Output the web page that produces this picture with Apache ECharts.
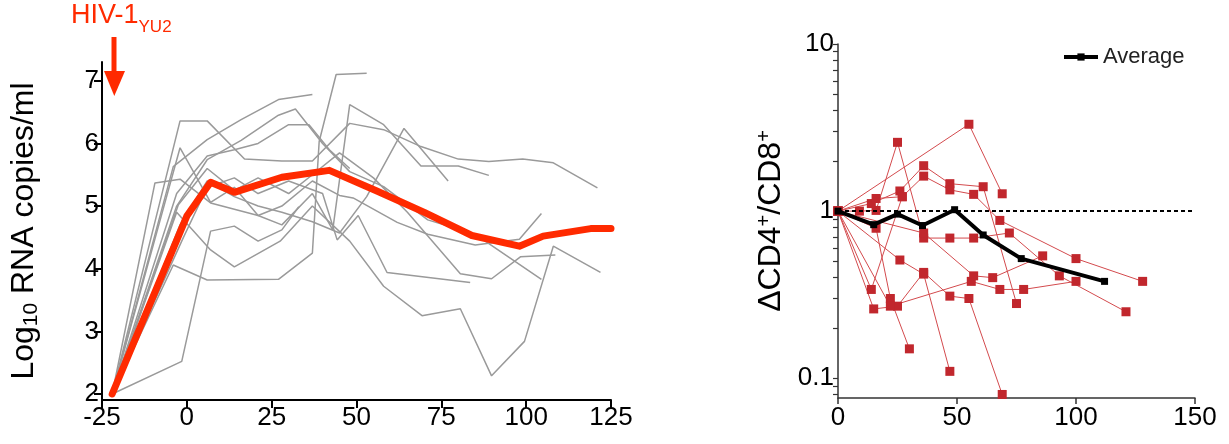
<!DOCTYPE html>
<html><head><meta charset="utf-8">
<script src="https://cdn.jsdelivr.net/npm/echarts@6/dist/echarts.min.js"></script>
<style>html,body{margin:0;padding:0;background:#fff}#c{width:1229px;height:444px}</style>
</head><body><div id="c"></div><script>
// ---- Left panel: plasma viral load (log10 RNA copies/ml) per animal, [day, value]
const rna01 = [[-22,2],[-2,6.36],[6,6.36],[17,5.75],[28,5.72],[37,5.72],[48,6.32],[58,6.22],[69,5.95],[80,5.75],[89,5.71],[99,5.75],[108,5.69],[121,5.29]];
const rna02 = [[-22,2],[-2,5.93],[7,5.06],[14,5.3],[21,4.85],[28,4.7],[37,5.2],[43,4.62],[48,6.62],[58,6.3],[69,5.64],[80,5.64],[89,5.49]];
const rna03 = [[-22,2],[-1.5,2.52],[7,4.6],[14,4.68],[21,4.44],[28,4.62],[33,4.99]];
const rna04 = [[-22,2],[-4,4.06],[6,3.82],[27,3.83],[37,4.25],[39,6.03],[44,7.1],[53,7.12]];
const rna05 = [[-22,2],[-9.4,5.37],[-2,5.43],[7,5.05],[21,4.85],[28,5.0],[37,5.4],[45,5.17],[49,5.13],[62,4.74],[71,4.55],[85,4.38],[98,4.47],[104.5,4.88]];
const rna06 = [[-22,2],[-4,5.63],[6,6.06],[16,6.38],[27,6.7],[37,6.78]];
const rna07 = [[-22,2],[-3,5.0],[6,5.74],[16,6.05],[27,6.45],[32,6.55],[40,6.0],[48,5.55],[58,5.31],[71,4.78],[85,4.55],[104.5,3.83]];
const rna08 = [[-22,2],[-2.5,5.02],[6,5.6],[14,5.25],[21,5.45],[30,5.2],[37,5.5],[45,5.85],[55,5.45],[65,4.9],[80.6,3.92],[89.8,3.84],[98.3,4.19],[108.6,4.22]];
const rna09 = [[-22,2],[-3,4.9],[7,4.3],[14,4.03],[27.5,4.44],[37,5.0],[48,4.44],[58,3.72],[69.3,3.25],[80.6,3.36],[89.8,2.29],[99.5,2.84],[108,4.36],[121.9,3.94]];
const rna10 = [[-22,2],[-2,4.7],[6,5.4],[14,5.15],[21,5.0],[28,4.9],[37,4.75],[45,4.57],[53,5.15],[64,6.24],[77,5.4]];
const rna11 = [[-22,2],[-1,4.5],[6,5.3],[14,5.45],[21,5.2],[30,5.4],[40,5.2],[44.3,4.46],[50.5,4.85],[59,3.94],[83.5,3.78]];
const rna12 = [[-22,2],[-3,5.2],[6,5.8],[14,5.9],[21,6.0],[30,6.3],[36,6.3],[42,5.9],[48,5.6]];
const rnaMean = [[-22,2],[0,4.84],[7,5.38],[14,5.22],[28,5.46],[42,5.57],[56,5.24],[70,4.9],[84,4.53],[98,4.36],[105,4.52],[119,4.64],[125,4.64]];
const rnaAnimals = [rna01,rna02,rna03,rna04,rna05,rna06,rna07,rna08,rna09,rna10,rna11,rna12];
const rnaTicks = [2,3,4,5,6,7];
const dayTicksLeft = [-25,125,25];

// ---- Right panel: delta CD4+/CD8+ ratio per animal, [day, ratio]
const cd01 = [[0,1],[55,3.31],[69,1.27]];
const cd02 = [[0,1],[9,1.0],[16,1.01],[25,2.58],[36,0.69],[47,0.69],[57,0.69],[72,0.74],[93,0.41],[121,0.25]];
const cd03 = [[0,1],[14,1.11],[26,1.32],[36,1.87],[47,1.46],[61,1.40],[75,0.28]];
const cd04 = [[0,1],[16,1.19],[27,1.22],[36,1.62],[47,1.34],[57,1.26],[68,0.88],[100,0.52],[128,0.38]];
const cd05 = [[0,1],[16,0.79],[22,0.30],[30,0.15]];
const cd06 = [[0,1],[14,0.34],[27,1.22]];
const cd07 = [[0,1],[15,0.26],[25,0.27],[36,0.43],[47,0.31],[55,0.30],[69,0.08]];
const cd08 = [[0,1],[26,0.51],[36,0.42],[47,0.11]];
const cd09 = [[0,1],[22,0.27],[56,0.38],[68,0.34],[78,0.34],[100,0.38]];
const cd10 = [[0,1],[36,0.74],[57,0.41],[65,0.40],[86,0.54]];
const cdAverage = [[0,1],[15,0.83],[25,0.96],[35.5,0.82],[49,1.02],[61,0.72],[77,0.52],[112,0.38]];
const cdAnimals = [cd01,cd02,cd03,cd04,cd05,cd06,cd07,cd08,cd09,cd10];
const ratioLabelTicks = [0.1,1,10];
const ratioMinorTicks = [0.08,0.09,0.1,0.2,0.3,0.4,0.5,0.6,0.7,0.8,0.9,1,2,3,4,5,6,7,8,9,10];

const FONT = "'Liberation Sans', Arial, sans-serif";
const RED = '#ff2a00';
const chart = echarts.init(document.getElementById('c'), null, {renderer:'canvas'});

const series = [];
rnaAnimals.forEach((d,i)=>series.push({
  type:'line', name:'rna'+i, xAxisIndex:0, yAxisIndex:0, data:d, showSymbol:false, silent:true,
  lineStyle:{color:'#9a9a9a', width:1.5}, z:2
}));
series.push({type:'line', name:'mean', xAxisIndex:0, yAxisIndex:0, data:rnaMean, showSymbol:false, silent:true,
  lineStyle:{color:RED, width:7, cap:'round', join:'round'}, z:5});
cdAnimals.forEach((d,i)=>series.push({
  type:'line', name:'cd'+i, xAxisIndex:1, yAxisIndex:1, data:d, symbol:'rect', symbolSize:9, silent:true,
  itemStyle:{color:'#c1272d'}, lineStyle:{color:'#d34a4d', width:1}, z:3
}));
series.push({type:'line', name:'Average', xAxisIndex:1, yAxisIndex:1, data:cdAverage, symbol:'rect', symbolSize:7,
  itemStyle:{color:'#000'}, lineStyle:{color:'#000', width:4}, z:6, silent:true,
  markLine:{silent:true, symbol:'none', label:{show:false}, data:[{yAxis:1}],
    lineStyle:{color:'#000', type:[4,3], width:2}}});

const option = {
  animation:false,
  textStyle:{fontFamily:FONT},
  title:{text:'{a|HIV-1}{b|YU2}', left:66, top:1,
    textStyle:{fontWeight:'normal', rich:{a:{fontSize:27, color:RED, fontFamily:FONT, fontWeight:'normal', lineHeight:30, padding:[0,0,10,0]},
                     b:{fontSize:17, color:RED, fontFamily:FONT, fontWeight:'normal', lineHeight:4, verticalAlign:'bottom'}}}},
  legend:{data:['Average'], left:1057, top:41, itemWidth:34, itemHeight:9, itemGap:10,
    lineStyle:{width:4, color:'#000'},
    textStyle:{fontSize:22, color:'#222', fontFamily:FONT}},
  graphic:[
    {type:'rect', shape:{x:111.5, y:37, width:5, height:36}, style:{fill:RED}},
    {type:'polygon', shape:{points:[[104,71],[125,71],[114.3,96]]}, style:{fill:RED}}
  ],
  grid:[{left:102, top:62, width:509, height:338},{left:838, top:44, width:357, height:354}],
  xAxis:[
    {gridIndex:0, type:'value', min:dayTicksLeft[0], max:dayTicksLeft[1], interval:dayTicksLeft[2],
      axisLine:{onZero:false, lineStyle:{color:'#000', width:2}}, axisTick:{length:8, lineStyle:{color:'#000', width:2}},
      axisLabel:{fontSize:26, color:'#000', margin:5, fontFamily:FONT}, splitLine:{show:false}},
    {gridIndex:1, type:'value', min:0, max:150, interval:50,
      axisLine:{onZero:false, lineStyle:{color:'#333', width:1.5}}, axisTick:{length:6, lineStyle:{color:'#333', width:1.5}},
      axisLabel:{fontSize:26, color:'#000', margin:7, fontFamily:FONT}, splitLine:{show:false}}
  ],
  yAxis:[
    {gridIndex:0, type:'value', min:1.904, max:7.3,
      axisLine:{show:true, onZero:false, lineStyle:{color:'#000', width:2}},
      axisTick:{show:true, length:8, customValues:rnaTicks, lineStyle:{color:'#000', width:2}},
      axisLabel:{customValues:rnaTicks, fontSize:26, color:'#000', margin:3, fontFamily:FONT},
      splitLine:{show:false},
      name:'Log{s|10} RNA copies/ml', nameLocation:'middle', nameRotate:90, nameGap:60,
      nameTextStyle:{fontSize:32, color:'#000', fontFamily:FONT, lineHeight:36,
        rich:{s:{fontSize:21, color:'#000', fontFamily:FONT, lineHeight:8, verticalAlign:'bottom'}}}},
    {gridIndex:1, type:'log', logBase:10, min:0.0762, max:10,
      axisLine:{show:true, onZero:false, lineStyle:{color:'#333', width:1.5}},
      axisTick:{show:true, length:5, customValues:ratioMinorTicks, lineStyle:{color:'#333', width:1.2}},
      axisLabel:{customValues:ratioLabelTicks, fontSize:26, color:'#000', margin:4, fontFamily:FONT,
        formatter:v=>{const e=Math.round(Math.log10(v)); return e<0 ? '0.1' : String(Math.pow(10,e));}},
      splitLine:{show:false}, minorTick:{show:false},
      name:'\u0394CD4{p|+}/CD8{p|+}', nameLocation:'middle', nameRotate:90, nameGap:50,
      nameTextStyle:{fontSize:32, color:'#000', fontFamily:FONT, lineHeight:34,
        rich:{p:{fontSize:20, color:'#000', fontFamily:FONT, lineHeight:10, verticalAlign:'top'}}}}
  ],
  series:series
};
chart.setOption(option);
</script></body></html>
